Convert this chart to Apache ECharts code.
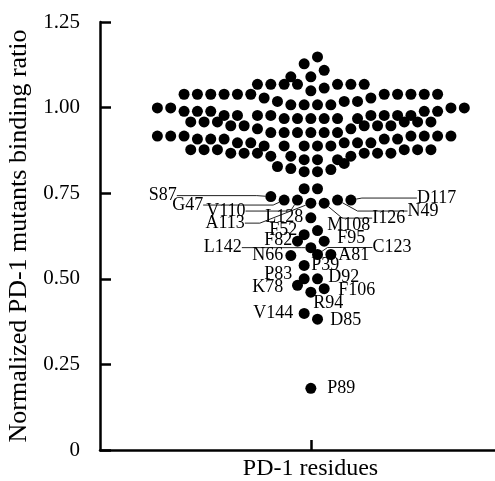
<!DOCTYPE html>
<html><head><meta charset="utf-8">
<script src="https://cdn.jsdelivr.net/npm/echarts@6/dist/echarts.min.js"></script>
<style>html,body{margin:0;padding:0;background:#fff}#c{width:495px;height:481px}</style>
</head><body><div id="c"></div>
<script>
// ---- data ----
// Unlabeled residues: binding ratio and beeswarm offset (in half-dot steps)
const clusterValues = [
  1.148, 1.128, 1.109, 1.090, 1.090,
  1.068, 1.068, 1.068, 1.068, 1.068, 1.068, 1.068,
  1.057, 1.049,
  1.039, 1.039, 1.039, 1.039, 1.039, 1.039, 1.039, 1.039, 1.039, 1.039, 1.039,
  1.028, 1.028,
  1.018, 1.018, 1.018,
  1.008, 1.008, 1.008, 1.008,
  0.999, 0.999, 0.999, 0.999,
  0.989, 0.989, 0.989, 0.989, 0.989,
  0.977, 0.977, 0.977, 0.977, 0.977, 0.977, 0.977, 0.977,
  0.968, 0.968, 0.968, 0.968, 0.968, 0.968,
  0.958, 0.958, 0.958, 0.958, 0.958, 0.958,
  0.947, 0.947, 0.947, 0.947, 0.947,
  0.938, 0.938,
  0.927, 0.927, 0.927, 0.927, 0.927, 0.927,
  0.917, 0.917, 0.917, 0.917, 0.917, 0.917, 0.917,
  0.908, 0.908, 0.908, 0.908, 0.908,
  0.897, 0.897, 0.897, 0.897, 0.897,
  0.888, 0.888, 0.888, 0.888, 0.888,
  0.877, 0.877, 0.877, 0.877, 0.877, 0.877,
  0.867, 0.867, 0.867, 0.867, 0.867, 0.867,
  0.858, 0.858, 0.858,
  0.848, 0.848, 0.848,
  0.837, 0.828, 0.822, 0.819,
  0.813, 0.813,
  0.763, 0.763
];
const clusterOffsets = [
  1, -1, 2, -3, 0,
  -8, -6, -4, -2, 4, 6, 8,
  2, 0,
  -19, -17, -15, -13, -11, -9, 11, 13, 15, 17, 19,
  -7, 9,
  -5, 5, 7,
  -3, -1, 1, 3,
  -23, -21, 21, 23,
  -19, -17, -15, 17, 19,
  -13, -11, -8, -6, 9, 11, 13, 15,
  -4, -2, 0, 2, 4, 7,
  -18, -16, -14, 14, 16, 18,
  -12, -10, 8, 10, 12,
  -8, 6,
  -6, -4, -2, 0, 2, 4,
  -23, -21, -19, 15, 17, 19, 21,
  -17, -15, -13, 11, 13,
  -11, -9, 5, 7, 9,
  -7, -4, -1, 1, 3,
  -18, -16, -14, 14, 16, 18,
  -12, -10, -8, 8, 10, 12,
  -6, -3, 6,
  -1, 1, 4,
  5, -5, -3, 3,
  -1, 1,
  -1, 1
];
// Labeled residues
const residueNames  = ['S87','G47','V110','A113','I126','N49','D117','L128','M108','F52','F82','F95','L142','C123','N66','A81','P39','P83','D92','K78','F106','R94','V144','D85','P89'];
const residueValues = [0.740,0.730,0.730,0.721,0.721,0.730,0.730,0.678,0.641,0.629,0.610,0.610,0.591,0.571,0.568,0.571,0.539,0.500,0.500,0.481,0.471,0.461,0.399,0.382,0.180];
const residueOffsets = [-6,-4,-2,0,2,4,6,0,1,-1,-2,2,0,1,-3,3,-1,-1,1,-2,2,0,-1,1,0];
const yTicks = [0, 0.25, 0.50, 0.75, 1.00, 1.25];

// ---- label styling (pixel offsets from dot centre) ----
const leaderStyle = { // [dx, dy, align, length2]
  S87: [-94, -1, 'right', 80], G47: [-81, 5, 'right', 70], V110: [-52, 11, 'right', 45],
  A113: [-66, 20, 'right', 15], L142: [-69, 0, 'right', 60],
  C123: [55, -7, 'left', 45], I126: [48, 15, 'left', 30], N49: [70, 11, 'left', 50], D117: [66, -2, 'left', 55]
};
const tagStyle = { // [dx, dy, align]
  L128: [-7.7, -0.6, 'right'], M108: [9.7, -5, 'left'], F52: [-7, -4, 'right'], F82: [-5.3, -0.7, 'right'],
  F95: [13, -2.7, 'left'], N66: [-7.7, 0, 'right'], A81: [7.3, 1, 'left'], P39: [7, 0, 'left'],
  P83: [-12, -4.3, 'right'], D92: [10.7, -1.6, 'left'], K78: [-14.3, 1.7, 'right'], F106: [14, 1.7, 'left'],
  R94: [2.3, 11, 'left'], V144: [-11, 0, 'right'], D85: [12.7, 1, 'left'], P89: [16.3, 0, 'left']
};

const FONT = 'Liberation Serif';
const DOT = 11;
const chart = echarts.init(document.getElementById('c'), null, {renderer: 'canvas'});

const leaderData = [], tagData = [];
residueNames.forEach((n, i) => {
  const item = {name: n, value: [residueOffsets[i], residueValues[i]]};
  if (leaderStyle[n]) {
    item.labelLine = {length2: leaderStyle[n][3]};
    leaderData.push(item);
  } else {
    const s = tagStyle[n];
    item.label = {position: [DOT / 2 + s[0], DOT / 2 + s[1]], align: s[2], verticalAlign: 'middle'};
    tagData.push(item);
  }
});

const labelBase = {show: true, formatter: '{b}', fontFamily: FONT, fontSize: 18, color: '#000', opacity: 1, textBorderWidth: 0};

chart.setOption({
  backgroundColor: '#fff',
  animation: false,
  grid: {left: 100, right: 0, top: 22, bottom: 31, containLabel: false, outerBoundsMode: 'none'},
  xAxis: {
    type: 'value', min: -31.6, max: 27.6,
    splitLine: {show: false},
    axisLine: {show: true, onZero: false, lineStyle: {color: '#000', width: 2.5}},
    axisTick: {show: true, inside: true, length: 10, customValues: [0], lineStyle: {color: '#000', width: 2.5}},
    axisLabel: {show: false},
    name: 'PD-1 residues', nameLocation: 'middle', nameGap: 7,
    nameTextStyle: {fontFamily: FONT, fontSize: 24, color: '#000', verticalAlign: 'top', padding: [0, 0, 0, 26]}
  },
  yAxis: {
    type: 'value', min: 0, max: 1.25, interval: 0.25,
    splitLine: {show: false},
    axisLine: {show: true, onZero: false, lineStyle: {color: '#000', width: 2.5}},
    axisTick: {show: true, inside: true, length: 11, lineStyle: {color: '#000', width: 2.5}},
    axisLabel: {
      margin: 20, fontFamily: FONT, fontSize: 21, color: '#000',
      formatter: v => { const t = yTicks.find(k => Math.abs(k - v) < 1e-9); return t === 0 ? '0' : t.toFixed(2); }
    },
    name: 'Normalized PD-1 mutants binding ratio', nameLocation: 'middle', nameGap: 63,
    nameTextStyle: {fontFamily: FONT, fontSize: 26, color: '#000'}
  },
  series: [
    {
      type: 'scatter', symbolSize: DOT, silent: true,
      itemStyle: {color: '#000', opacity: 1},
      data: clusterOffsets.map((x, i) => [x, clusterValues[i]])
    },
    {
      type: 'scatter', symbolSize: DOT, silent: true,
      itemStyle: {color: '#000', opacity: 1},
      label: labelBase,
      labelLine: {show: true, lineStyle: {color: '#222', width: 1, opacity: 1}},
      labelLayout: function (p) {
        const s = leaderStyle[leaderData[p.dataIndex].name];
        const cx = p.rect.x + p.rect.width / 2, cy = p.rect.y + p.rect.height / 2;
        return {x: cx + s[0], y: cy + s[1], align: s[2], verticalAlign: 'middle'};
      },
      data: leaderData
    },
    {
      type: 'scatter', symbolSize: DOT, silent: true,
      itemStyle: {color: '#000', opacity: 1},
      label: labelBase,
      data: tagData
    }
  ]
});
</script></body></html>
